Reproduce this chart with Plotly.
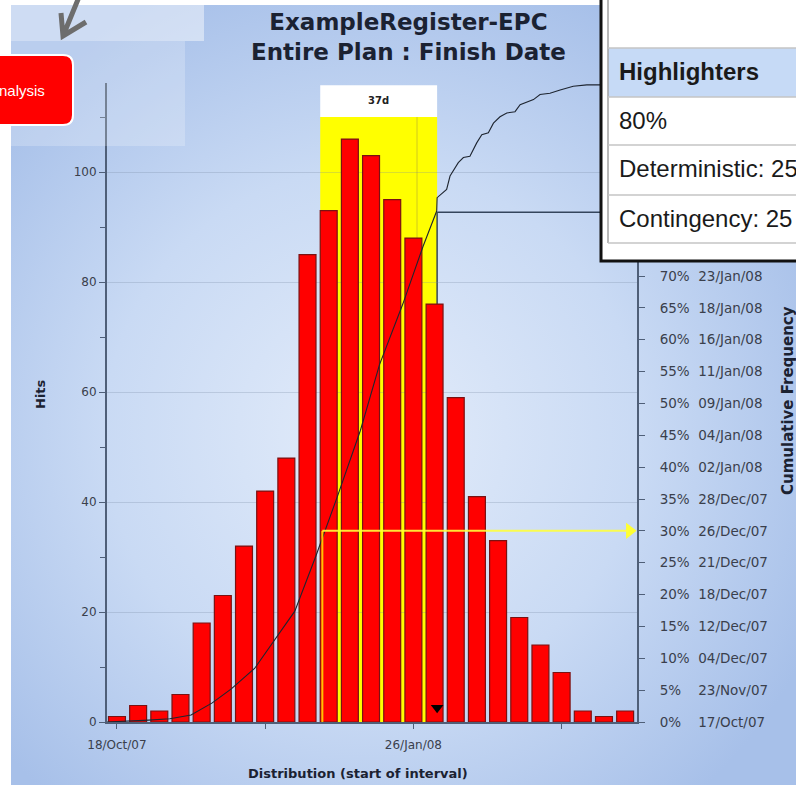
import base64
import plotly.graph_objects as go

# ---------------- data ----------------
hits = [1, 3, 2, 5, 18, 23, 32, 42, 48, 85, 93, 106, 103, 95, 88, 76, 59, 41, 33, 19, 14, 9, 2, 1, 2]
interval = list(range(len(hits)))
x_tick_pos = [0, 7, 14, 21]
x_tick_text = ["18/Oct/07", "", "26/Jan/08", ""]

cum_x = [-0.5, 0.5, 1.5, 2.5, 3.1, 3.5, 4.5, 5.4, 6.5, 7.4, 8.4, 9.4, 10.4, 11.5, 12.4, 13.5, 14.45,
         15.1, 15.12, 15.57, 15.73, 16.12, 16.36, 16.67, 16.99, 17.23, 17.54, 17.78, 18.09, 18.41,
         18.8, 19.04, 19.43, 19.67, 19.98, 20.45, 20.93, 21.55, 22.19, 22.8, 24.5]
cum_pct = [0, 0.1, 0.3, 0.5, 0.8, 1.1, 3.0, 5.2, 8.4, 12.6, 17.4, 26.1, 35.3, 45.8, 56.1, 65.6, 74.6,
           80.2, 82.3, 83.6, 85.7, 87.8, 88.6, 88.8, 90.9, 92.2, 92.5, 94.0, 95.0, 95.6,
           95.8, 96.9, 97.4, 97.7, 98.5, 98.7, 99.2, 99.8, 100, 100, 100]

right_pct = [0, 5, 10, 15, 20, 25, 30, 35, 40, 45, 50, 55, 60, 65, 70]
right_dates = ["17/Oct/07", "23/Nov/07", "04/Dec/07", "12/Dec/07", "18/Dec/07", "21/Dec/07",
               "26/Dec/07", "28/Dec/07", "02/Jan/08", "04/Jan/08", "09/Jan/08", "11/Jan/08",
               "16/Jan/08", "18/Jan/08", "23/Jan/08"]

deterministic_x = 9.7
deterministic_pct = 30
p80_x = 15.12
p80_pct = 80
mark_x = 14.17
contingency_text = "37d"

table_rows = ["80%", "Deterministic: 25", "Contingency: 25"]

# ---------------- geometry helpers (decorations only) ----------------
W, H = 796, 785
L, R, T, B = 107, 159, 83, 63
PW, PH = W - L - R, H - T - B
Y_LEFT_MAX = 116.2
Y_RIGHT_MAX = 100.3
X_MIN, X_MAX = -0.47, 24.56


def fx(px):
    return (px - L) / PW


def fy(py):
    return (H - B - py) / PH


def P(x, y):
    return f"{fx(x):.5f},{fy(y):.5f}"


FONT = "DejaVu Sans"
AFONT = "Liberation Sans"

fig = go.Figure()

fig.add_trace(go.Bar(
    x=interval, y=hits, width=0.8,
    marker=dict(color="#ff0000", line=dict(color="#7a1212", width=1.2)),
    yaxis="y", hoverinfo="skip"))

fig.add_trace(go.Scatter(
    x=cum_x, y=cum_pct, yaxis="y2", mode="lines",
    line=dict(color="#1e2530", width=1.1), hoverinfo="skip"))

fig.add_trace(go.Scatter(
    x=[X_MAX - 0.35], y=[deterministic_pct], yaxis="y2", mode="markers",
    marker=dict(symbol="triangle-right", size=14, color="#ffff33"), hoverinfo="skip"))

fig.add_trace(go.Scatter(
    x=[p80_x], y=[2.6], yaxis="y", mode="markers",
    marker=dict(symbol="triangle-down", size=11, color="#000000"), hoverinfo="skip"))

shapes = []
# highlight band
shapes.append(dict(type="rect", xref="x", yref="y", x0=deterministic_x - 0.1, x1=p80_x,
                   y0=0, y1=110, fillcolor="#ffff00", line=dict(width=0), layer="below"))
shapes.append(dict(type="rect", xref="x", yref="y", x0=deterministic_x - 0.1, x1=p80_x,
                   y0=110, y1=115.8, fillcolor="#ffffff", line=dict(width=0), layer="below"))
shapes.append(dict(type="line", xref="x", yref="y", x0=mark_x, x1=mark_x, y0=0, y1=110,
                   line=dict(color="rgba(190,180,40,0.7)", width=1), layer="below"))
# 80% marker lines
shapes.append(dict(type="line", xref="x", yref="y2", x0=p80_x, x1=p80_x, y0=0, y1=p80_pct,
                   line=dict(color="#34455c", width=1.5), layer="below"))
shapes.append(dict(type="line", xref="x", yref="y2", x0=p80_x, x1=X_MAX, y0=p80_pct, y1=p80_pct,
                   line=dict(color="#34455c", width=1.5), layer="below"))
# deterministic marker lines
shapes.append(dict(type="line", xref="x", yref="y2", x0=deterministic_x, x1=deterministic_x,
                   y0=0, y1=deterministic_pct,
                   line=dict(color="rgba(255,215,0,0.9)", width=2), layer="above"))
shapes.append(dict(type="line", xref="x", yref="y2", x0=deterministic_x, x1=X_MAX - 0.4,
                   y0=deterministic_pct, y1=deterministic_pct,
                   line=dict(color="rgba(255,255,60,0.9)", width=2), layer="above"))

# top-left light panels
shapes.append(dict(type="rect", xref="paper", yref="paper", x0=fx(11), x1=fx(204), y0=fy(41), y1=fy(5),
                   fillcolor="rgba(255,255,255,0.45)", line=dict(width=0), layer="above"))
shapes.append(dict(type="rect", xref="paper", yref="paper", x0=fx(11), x1=fx(185), y0=fy(146), y1=fy(41),
                   fillcolor="rgba(255,255,255,0.22)", line=dict(width=0), layer="above"))
# red button
btn = (f"M{P(-12,55)} L{P(63,55)} Q{P(73,55)} {P(73,65)} L{P(73,115)} "
       f"Q{P(73,125)} {P(63,125)} L{P(-12,125)} Z")
shapes.append(dict(type="path", xref="paper", yref="paper", path=btn, fillcolor="#ff0000",
                   line=dict(color="#ffffff", width=2), layer="above"))
# gray arrow
arrow = f"M{P(79,-3)} L{P(63,36)} M{P(61,13)} L{P(63,36)} L{P(86,22)}"
shapes.append(dict(type="path", xref="paper", yref="paper", path=arrow,
                   line=dict(color="#6d6d6d", width=5), layer="above"))

# popup table
shapes.append(dict(type="rect", xref="paper", yref="paper", x0=fx(601), x1=fx(810), y0=fy(261), y1=fy(-10),
                   fillcolor="#ffffff", line=dict(color="#111111", width=3), layer="above"))
shapes.append(dict(type="rect", xref="paper", yref="paper", x0=fx(608), x1=fx(810), y0=fy(97), y1=fy(48),
                   fillcolor="#c6daf6", line=dict(width=0), layer="above"))
shapes.append(dict(type="line", xref="paper", yref="paper", x0=fx(608), x1=fx(608), y0=fy(243), y1=fy(-10),
                   line=dict(color="#a0a0a0", width=1.5), layer="above"))
for ry in [48, 97, 145, 195, 243]:
    shapes.append(dict(type="line", xref="paper", yref="paper", x0=fx(608), x1=fx(810), y0=fy(ry), y1=fy(ry),
                       line=dict(color="#c4c4c4", width=1.5), layer="above"))

annotations = []
annotations.append(dict(xref="paper", yref="paper", x=fx(408), y=fy(37), xanchor="center", yanchor="middle",
                        text="<b>ExampleRegister-EPC<br>Entire Plan : Finish Date</b>", showarrow=False,
                        font=dict(family=FONT, size=23, color="#1b2232")))
annotations.append(dict(xref="x", yref="y", x=(deterministic_x - 0.1 + p80_x) / 2, y=113,
                        xanchor="center", yanchor="middle",
                        text=f"<b>{contingency_text}</b>", showarrow=False,
                        font=dict(family=FONT, size=10, color="#222222")))
annotations.append(dict(xref="paper", yref="paper", x=fx(40), y=fy(394), xanchor="center", yanchor="middle",
                        text="<b>Hits</b>", textangle=-90, showarrow=False,
                        font=dict(family=FONT, size=13, color="#1b2232")))
annotations.append(dict(xref="paper", yref="paper", x=fx(358), y=fy(773), xanchor="center", yanchor="middle",
                        text="<b>Distribution (start of interval)</b>", showarrow=False,
                        font=dict(family=FONT, size=13, color="#1b2232")))
annotations.append(dict(xref="paper", yref="paper", x=fx(788), y=fy(401), xanchor="center", yanchor="middle",
                        text="<b>Cumulative Frequency</b>", textangle=-90, showarrow=False,
                        font=dict(family=FONT, size=15, color="#1b2232")))
annotations.append(dict(xref="paper", yref="paper", x=fx(47), y=fy(90), xanchor="right", yanchor="middle",
                        text="Analysis", showarrow=False, font=dict(family=AFONT, size=15, color="#ffffff")))
annotations.append(dict(xref="paper", yref="paper", x=fx(617), y=fy(72), xanchor="left", yanchor="middle",
                        text="<b>Highlighters</b>", showarrow=False,
                        font=dict(family=AFONT, size=24, color="#1a1a1a")))
for txt, ry in zip(table_rows, [121, 168, 218]):
    annotations.append(dict(xref="paper", yref="paper", x=fx(617), y=fy(ry), xanchor="left", yanchor="middle",
                            text=txt, showarrow=False, font=dict(family=AFONT, size=24, color="#1a1a1a")))

right_text = [f"{p}%" + ("\u2007" if p < 10 else "") + "\u00a0\u00a0" + d for p, d in zip(right_pct, right_dates)]

svg = ("<svg xmlns='http://www.w3.org/2000/svg' width='785' height='779' preserveAspectRatio='none'>"
       "<defs><radialGradient id='g' cx='0.46' cy='0.55' r='0.62'>"
       "<stop offset='0' stop-color='#e3ecfa'/><stop offset='0.55' stop-color='#c9daf4'/>"
       "<stop offset='1' stop-color='#a7c0e9'/></radialGradient></defs>"
       "<rect width='785' height='779' fill='url(#g)'/></svg>")
bg_src = "data:image/svg+xml;base64," + base64.b64encode(svg.encode()).decode()

axis_col = "#4f5f78"
fig.update_layout(
    width=W, height=H,
    margin=dict(l=L, r=R, t=T, b=B, pad=0),
    paper_bgcolor="#ffffff", plot_bgcolor="rgba(0,0,0,0)",
    showlegend=False, bargap=0.2,
    images=[dict(source=bg_src, xref="paper", yref="paper", x=fx(11), y=fy(5),
                 sizex=fx(796) - fx(11), sizey=fy(5) - fy(785), xanchor="left", yanchor="top",
                 sizing="stretch", layer="below")],
    xaxis=dict(range=[X_MIN, X_MAX], tickmode="array", tickvals=x_tick_pos, ticktext=x_tick_text,
               ticks="outside", ticklen=5, tickcolor=axis_col, showline=True, linecolor=axis_col,
               linewidth=2, showgrid=False, zeroline=False, ticklabelstandoff=6,
               tickfont=dict(family=FONT, size=12, color="#3a3f4c")),
    yaxis=dict(range=[0, Y_LEFT_MAX], tickmode="array", tickvals=[0, 20, 40, 60, 80, 100],
               ticks="outside", ticklen=6, tickcolor=axis_col, showline=True, linecolor=axis_col,
               linewidth=2, showgrid=True, gridcolor="rgba(120,135,160,0.28)", gridwidth=1,
               zeroline=False, tickfont=dict(family=FONT, size=12, color="#3a3f4c"),
               minor=dict(tickmode="array", tickvals=[10, 30, 50, 70, 90, 110], ticks="outside",
                          ticklen=5, tickcolor=axis_col, showgrid=False)),
    yaxis2=dict(range=[0, Y_RIGHT_MAX], overlaying="y", side="right", tickmode="array",
                tickvals=right_pct, ticktext=right_text, ticks="outside", ticklen=6, tickcolor=axis_col,
                showline=True, linecolor=axis_col, linewidth=2, showgrid=False, zeroline=False,
                ticklabelstandoff=12, tickfont=dict(family=FONT, size=13.5, color="#3a3f4c")),
    shapes=shapes, annotations=annotations,
)

fig.write_html("out.html", config={"displayModeBar": False},
               post_script="document.body.style.margin='0';document.body.style.overflow='hidden';")
